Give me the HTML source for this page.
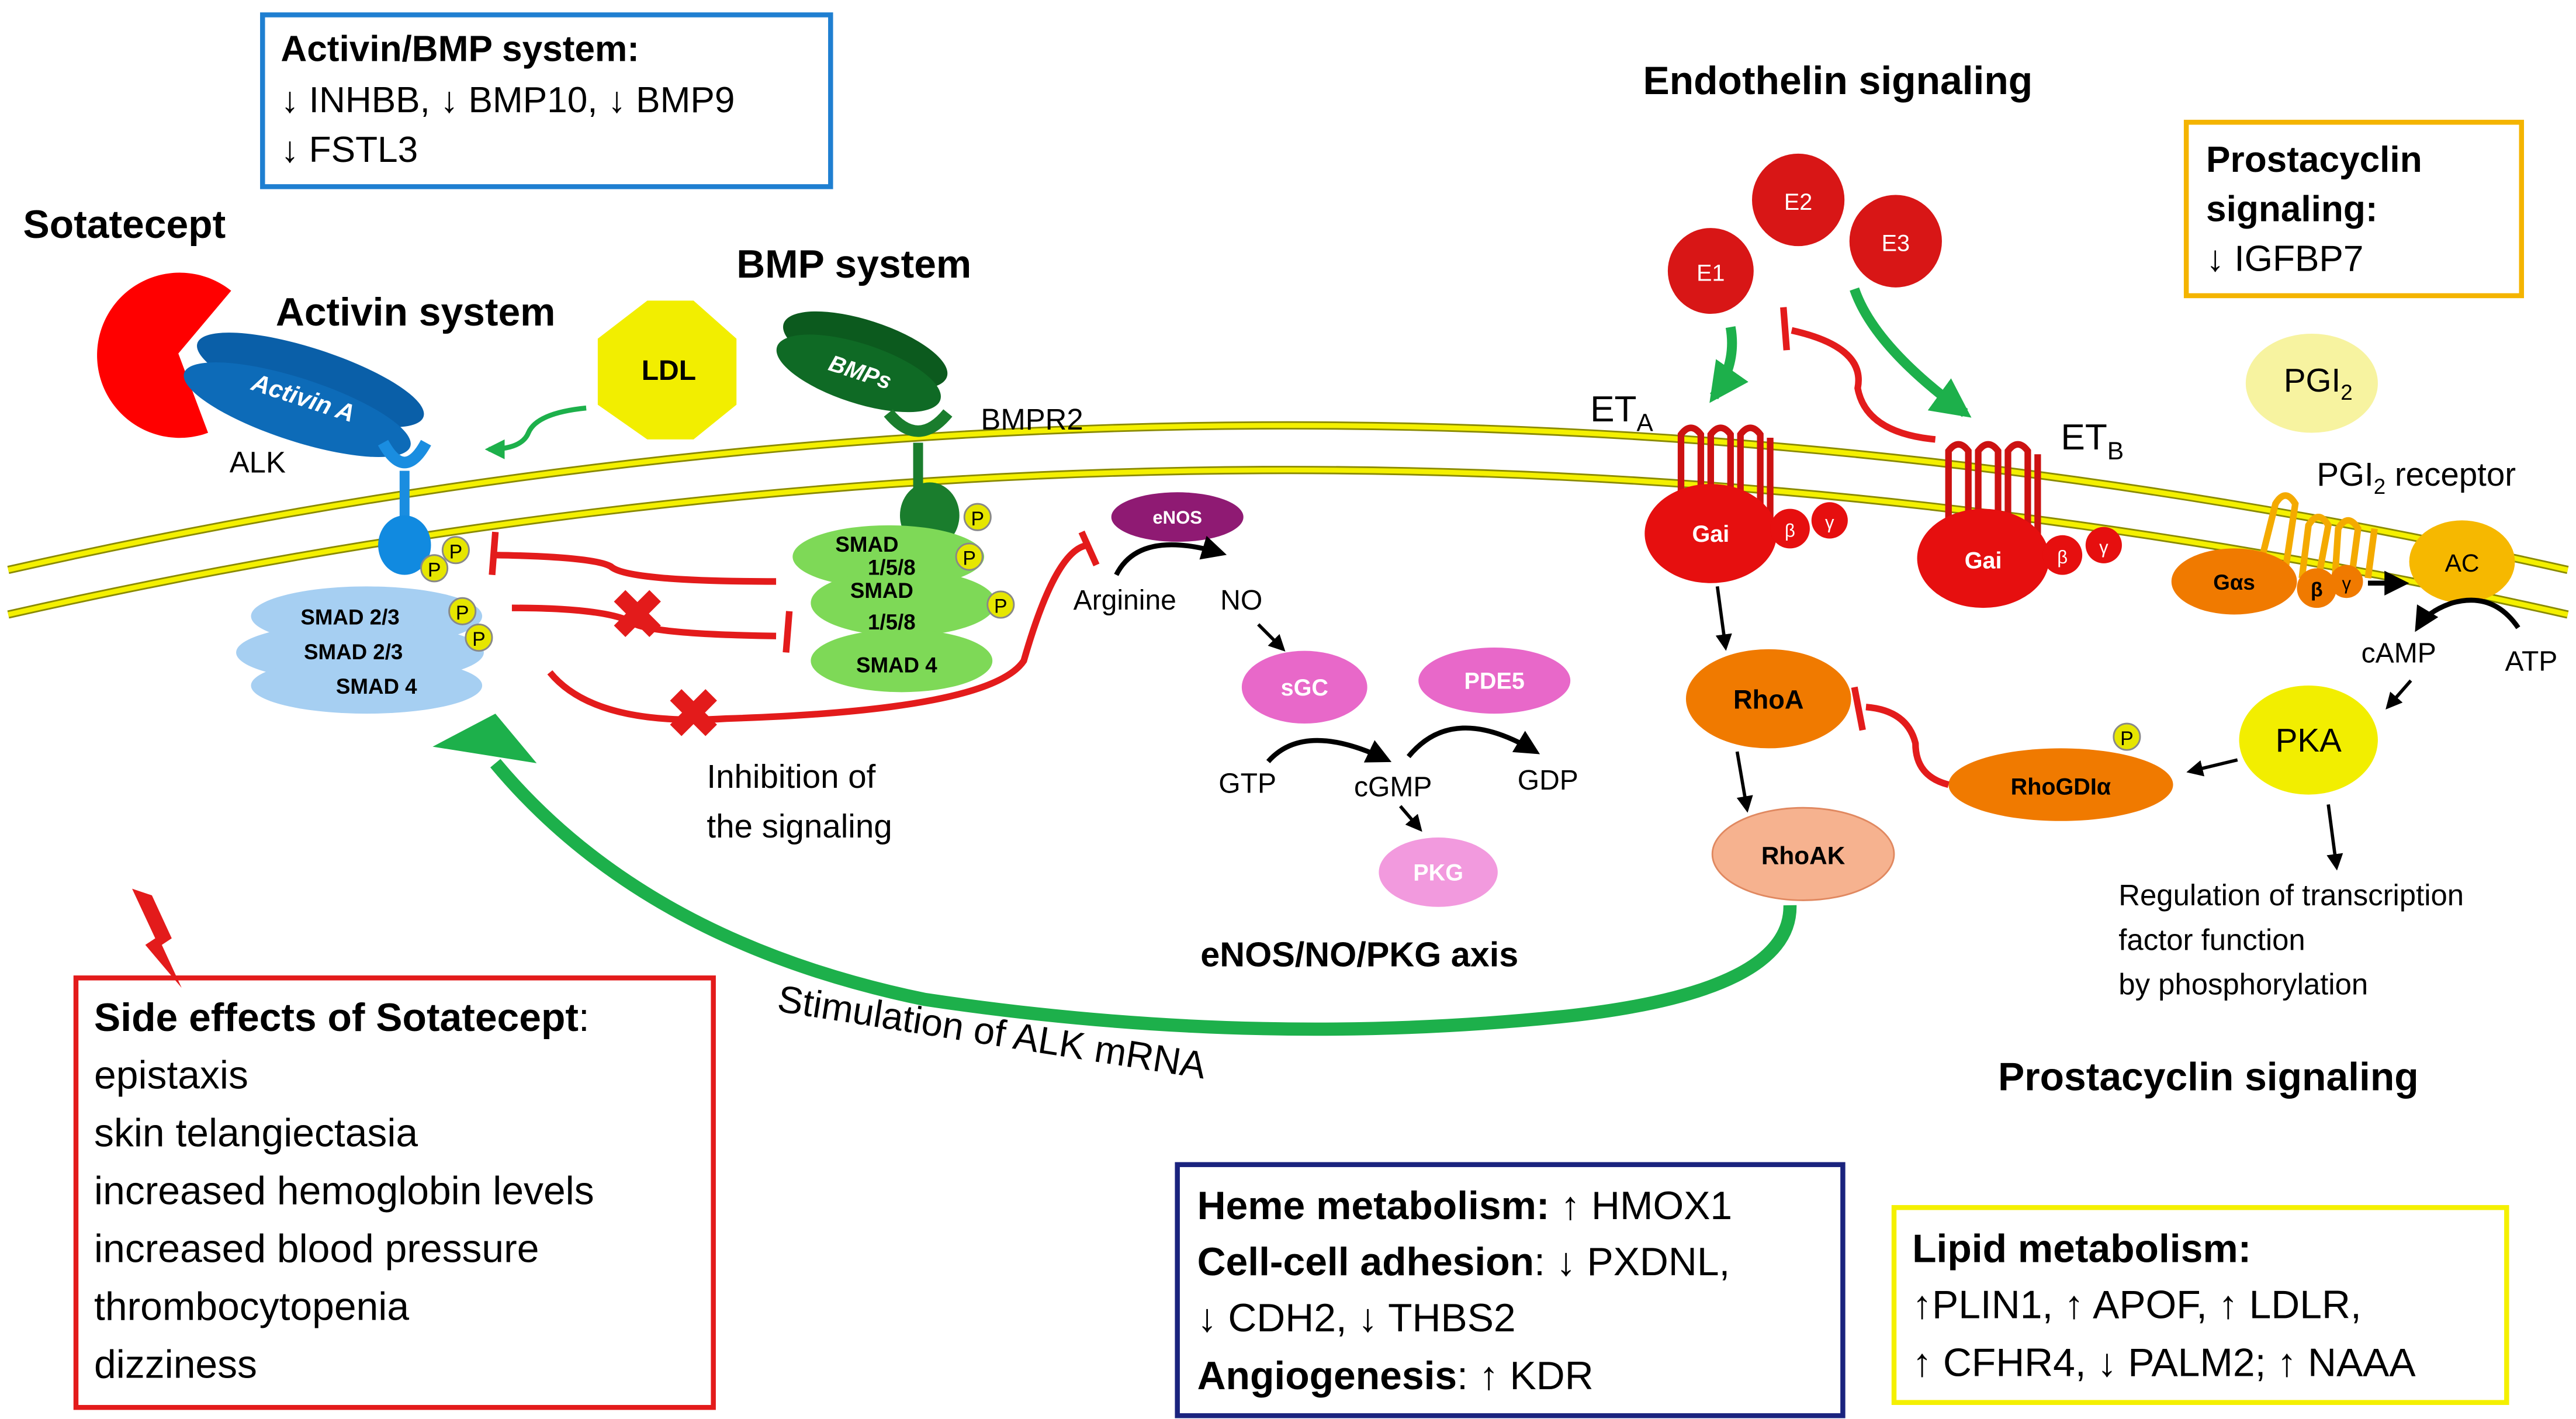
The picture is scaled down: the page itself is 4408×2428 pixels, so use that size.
<!DOCTYPE html>
<html><head><meta charset="utf-8"><style>
html,body{margin:0;padding:0;background:#fff}
svg{display:block}
text{font-family:"Liberation Sans",sans-serif}
</style></head><body>
<svg width="4408" height="2428" viewBox="0 0 1560 859" preserveAspectRatio="none" xmlns="http://www.w3.org/2000/svg">
<defs>
<marker id="ab" viewBox="0 0 10 10" refX="8" refY="5" markerWidth="5" markerHeight="5" orient="auto"><path d="M0,0L10,5L0,10z" fill="#000"/></marker>
<marker id="ag" viewBox="0 0 10 10" refX="8" refY="5" markerWidth="4" markerHeight="4" orient="auto"><path d="M0,0L10,5L0,10z" fill="#1db04b"/></marker>
</defs>
<rect width="1560" height="859" fill="#fff"/>
<!-- membrane -->
<path d="M5,345 Q780,170 1555,345" fill="none" stroke="#8a8a00" stroke-width="5"/>
<path d="M5,345 Q780,170 1555,345" fill="none" stroke="#f4f000" stroke-width="3"/>
<path d="M5,372 Q780,197 1555,372" fill="none" stroke="#8a8a00" stroke-width="5"/>
<path d="M5,372 Q780,197 1555,372" fill="none" stroke="#f4f000" stroke-width="3"/>

<!-- boxes -->
<rect x="159" y="9" width="344" height="104" fill="#fff" stroke="#1f7fd1" stroke-width="3"/>
<text x="170" y="37" font-size="22" font-weight="bold">Activin/BMP system:</text>
<text x="170" y="68" font-size="22">↓ INHBB, ↓ BMP10, ↓ BMP9</text>
<text x="170" y="98" font-size="22">↓ FSTL3</text>

<rect x="1324" y="74" width="203" height="105" fill="#fff" stroke="#f4b400" stroke-width="3"/>
<text x="1336" y="104" font-size="22" font-weight="bold">Prostacyclin</text>
<text x="1336" y="134" font-size="22" font-weight="bold">signaling:</text>
<text x="1336" y="164" font-size="22">↓ IGFBP7</text>

<rect x="46" y="592" width="386" height="260" fill="#fff" stroke="#e31b1b" stroke-width="3"/>
<text x="57" y="624" font-size="24"><tspan font-weight="bold">Side effects of Sotatecept</tspan>:</text>
<text x="57" y="659" font-size="24">epistaxis</text>
<text x="57" y="694" font-size="24">skin telangiectasia</text>
<text x="57" y="729" font-size="24">increased hemoglobin levels</text>
<text x="57" y="764" font-size="24">increased blood pressure</text>
<text x="57" y="799" font-size="24">thrombocytopenia</text>
<text x="57" y="834" font-size="24">dizziness</text>
<path d="M80,538 L94,568 L88,572 L110,598 L98,572 L104,568 L92,542z" fill="#e31b1b"/>

<rect x="713" y="705" width="403" height="152" fill="#fff" stroke="#1a237e" stroke-width="3"/>
<text x="725" y="738" font-size="24"><tspan font-weight="bold">Heme metabolism:</tspan> ↑ HMOX1</text>
<text x="725" y="772" font-size="24"><tspan font-weight="bold">Cell-cell adhesion</tspan>: ↓ PXDNL,</text>
<text x="725" y="806" font-size="24">↓ CDH2, ↓ THBS2</text>
<text x="725" y="841" font-size="24"><tspan font-weight="bold">Angiogenesis</tspan>: ↑ KDR</text>

<rect x="1147" y="731" width="371" height="118" fill="#fff" stroke="#f4f000" stroke-width="3"/>
<text x="1158" y="764" font-size="24" font-weight="bold">Lipid metabolism:</text>
<text x="1158" y="798" font-size="24">↑PLIN1, ↑ APOF, ↑ LDLR,</text>
<text x="1158" y="833" font-size="24">↑ CFHR4, ↓ PALM2; ↑ NAAA</text>

<!-- titles -->
<text x="14" y="144" font-size="24" font-weight="bold">Sotatecept</text>
<text x="167" y="197" font-size="24" font-weight="bold">Activin system</text>
<text x="446" y="168" font-size="24" font-weight="bold">BMP system</text>
<text x="995" y="57" font-size="24" font-weight="bold">Endothelin signaling</text>
<text x="1210" y="660" font-size="24" font-weight="bold">Prostacyclin signaling</text>
<text x="727" y="585" font-size="21" font-weight="bold">eNOS/NO/PKG axis</text>

<!-- sotatecept pacman -->
<path d="M108,214 L140,176 A50,50 0 1 0 126,262 z" fill="#f00"/>
<!-- Activin A -->
<ellipse cx="188" cy="230" rx="72" ry="19" transform="rotate(18 188 230)" fill="#0a5fa8"/>
<ellipse cx="180" cy="248" rx="72" ry="19" transform="rotate(18 180 248)" fill="#0d6bb8"/>
<text x="150" y="245" font-size="15" font-weight="bold" font-style="italic" fill="#fff" transform="rotate(18 180 245)">Activin A</text>
<text x="139" y="286" font-size="18">ALK</text>
<!-- ALK receptor -->
<path d="M232,268 Q245,292 258,268" fill="none" stroke="#1a8de0" stroke-width="7"/>
<rect x="242" y="285" width="6" height="40" fill="#1a8de0"/>
<ellipse cx="245" cy="330" rx="16" ry="18" fill="#118ae0"/>
<g font-size="12" text-anchor="middle">
<circle cx="276" cy="333" r="8" fill="#e6e600" stroke="#888"/><text x="276" y="338">P</text>
<circle cx="263" cy="344" r="8" fill="#e6e600" stroke="#888"/><text x="263" y="349">P</text>
</g>
<!-- SMAD 2/3 -->
<ellipse cx="222" cy="373" rx="70" ry="18" fill="#a6cff2"/>
<ellipse cx="218" cy="395" rx="75" ry="18" fill="#a6cff2"/>
<ellipse cx="222" cy="415" rx="70" ry="17" fill="#a6cff2"/>
<g font-size="13" font-weight="bold" text-anchor="middle"><text x="212" y="378">SMAD 2/3</text><text x="214" y="399">SMAD 2/3</text><text x="228" y="420">SMAD 4</text></g>
<g font-size="12" text-anchor="middle">
<circle cx="280" cy="370" r="8" fill="#e6e600" stroke="#888"/><text x="280" y="375">P</text>
<circle cx="290" cy="386" r="8" fill="#e6e600" stroke="#888"/><text x="290" y="391">P</text>
</g>

<!-- LDL -->
<polygon points="392,182 420,182 446,205 446,245 420,266 392,266 362,245 362,205" fill="#f2ee00"/>
<text x="405" y="230" font-size="17" font-weight="bold" text-anchor="middle">LDL</text>
<path d="M355,247 Q325,250 320,262 Q316,272 296,272" fill="none" stroke="#1db04b" stroke-width="3" marker-end="url(#ag)"/>

<!-- BMPs -->
<ellipse cx="524" cy="212" rx="52" ry="18" transform="rotate(18 524 212)" fill="#0c5a1e"/>
<ellipse cx="520" cy="226" rx="52" ry="18" transform="rotate(18 520 226)" fill="#0f6a25"/>
<text x="500" y="230" font-size="14" font-weight="bold" font-style="italic" fill="#fff" transform="rotate(18 520 230)">BMPs</text>
<text x="594" y="260" font-size="18">BMPR2</text>
<path d="M538,250 Q556,272 574,250" fill="none" stroke="#1a7d2d" stroke-width="7"/>
<rect x="553" y="268" width="6" height="40" fill="#1a7d2d"/>
<ellipse cx="563" cy="312" rx="18" ry="20" fill="#1a7d2d"/>
<ellipse cx="538" cy="337" rx="58" ry="19" fill="#7ed957"/>
<ellipse cx="547" cy="365" rx="56" ry="20" fill="#7ed957"/>
<ellipse cx="546" cy="400" rx="55" ry="19" fill="#7ed957"/>
<g font-size="13" font-weight="bold" text-anchor="middle"><text x="525" y="334">SMAD</text><text x="540" y="348">1/5/8</text><text x="534" y="362">SMAD</text><text x="540" y="381">1/5/8</text><text x="543" y="407">SMAD 4</text></g>
<g font-size="12" text-anchor="middle">
<circle cx="592" cy="313" r="8" fill="#e6e600" stroke="#888"/><text x="592" y="318">P</text>
<circle cx="587" cy="337" r="8" fill="#e6e600" stroke="#888"/><text x="587" y="342">P</text>
<circle cx="606" cy="366" r="8" fill="#e6e600" stroke="#888"/><text x="606" y="371">P</text>
</g>

<!-- red inhibition lines -->
<g fill="none" stroke="#e31b1b" stroke-width="4">
<path d="M300,336 Q360,337 370,343 Q380,352 470,352"/>
<path d="M300,322 L298,348"/>
<path d="M310,368 Q370,368 385,378 Q400,384 470,385"/>
<path d="M478,370 L476,395"/>
<path d="M333,407 Q360,440 440,435 Q600,430 620,400 Q640,330 660,330"/>
<path d="M655,322 L664,342"/>
</g>
<text x="386" y="386" font-size="40" font-weight="bold" fill="#e31b1b" text-anchor="middle">✖</text>
<text x="420" y="446" font-size="40" font-weight="bold" fill="#e31b1b" text-anchor="middle">✖</text>
<text x="428" y="477" font-size="20">Inhibition of</text>
<text x="428" y="507" font-size="20">the signaling</text>

<!-- eNOS axis -->
<ellipse cx="713" cy="313" rx="40" ry="15" fill="#8f1a73"/>
<text x="713" y="317" font-size="11" font-weight="bold" fill="#fff" text-anchor="middle">eNOS</text>
<path d="M676,348 Q690,320 740,335" fill="none" stroke="#000" stroke-width="3" marker-end="url(#ab)"/>
<text x="650" y="369" font-size="17">Arginine</text>
<text x="739" y="369" font-size="17">NO</text>
<path d="M762,378 L777,393" stroke="#000" stroke-width="2" marker-end="url(#ab)"/>
<ellipse cx="790" cy="416" rx="38" ry="22" fill="#e868c9"/>
<text x="790" y="421" font-size="14" font-weight="bold" fill="#fff" text-anchor="middle">sGC</text>
<ellipse cx="905" cy="412" rx="46" ry="20" fill="#e868c9"/>
<text x="905" y="417" font-size="14" font-weight="bold" fill="#fff" text-anchor="middle">PDE5</text>
<path d="M768,461 Q790,436 840,460" fill="none" stroke="#000" stroke-width="3" marker-end="url(#ab)"/>
<path d="M853,458 Q880,425 930,455" fill="none" stroke="#000" stroke-width="3" marker-end="url(#ab)"/>
<text x="738" y="480" font-size="17">GTP</text>
<text x="820" y="482" font-size="17">cGMP</text>
<text x="919" y="478" font-size="17">GDP</text>
<path d="M848,488 L860,502" stroke="#000" stroke-width="2" marker-end="url(#ab)"/>
<ellipse cx="871" cy="528" rx="36" ry="21" fill="#f29ade"/>
<text x="871" y="533" font-size="14" font-weight="bold" fill="#fff" text-anchor="middle">PKG</text>

<!-- Endothelins -->
<circle cx="1036" cy="164" r="26" fill="#d81616"/><text x="1036" y="170" font-size="14" fill="#fff" text-anchor="middle">E1</text>
<circle cx="1089" cy="121" r="28" fill="#d81616"/><text x="1089" y="127" font-size="14" fill="#fff" text-anchor="middle">E2</text>
<circle cx="1148" cy="146" r="28" fill="#d81616"/><text x="1148" y="152" font-size="14" fill="#fff" text-anchor="middle">E3</text>
<path d="M1048,198 Q1052,220 1038,240" fill="none" stroke="#1db04b" stroke-width="6" marker-end="url(#ag)"/>
<path d="M1123,175 Q1135,210 1190,250" fill="none" stroke="#1db04b" stroke-width="6" marker-end="url(#ag)"/>
<path d="M1085,200 Q1130,210 1125,235 Q1130,262 1172,266" fill="none" stroke="#e31b1b" stroke-width="4"/>
<path d="M1080,186 L1082,212" stroke="#e31b1b" stroke-width="4"/>
<text x="963" y="255" font-size="22">ET<tspan font-size="15" dy="6">A</tspan></text>
<text x="1248" y="272" font-size="22">ET<tspan font-size="15" dy="6">B</tspan></text>
<g fill="none" stroke="#cc1111" stroke-width="4">
<path d="M1018,315 L1018,263 Q1024,255 1030,263 L1030,315 M1036,315 L1036,263 Q1042,255 1048,263 L1048,315 M1054,315 L1054,263 Q1060,255 1066,263 L1066,315 M1072,315 L1072,265"/>
<path d="M1180,330 L1180,273 Q1186,265 1192,273 L1192,330 M1198,330 L1198,273 Q1204,265 1210,273 L1210,330 M1216,330 L1216,273 Q1222,265 1228,273 L1228,330 M1234,330 L1234,275"/>
</g>
<ellipse cx="1036" cy="323" rx="40" ry="30" fill="#e60f0f"/><text x="1036" y="328" font-size="14" font-weight="bold" fill="#fff" text-anchor="middle">Gai</text>
<circle cx="1084" cy="320" r="12" fill="#e60f0f"/><text x="1084" y="325" font-size="11" fill="#fff" text-anchor="middle">β</text>
<circle cx="1108" cy="315" r="11" fill="#e60f0f"/><text x="1108" y="320" font-size="11" fill="#fff" text-anchor="middle">γ</text>
<ellipse cx="1201" cy="338" rx="40" ry="30" fill="#e60f0f"/><text x="1201" y="344" font-size="14" font-weight="bold" fill="#fff" text-anchor="middle">Gai</text>
<circle cx="1249" cy="336" r="12" fill="#e60f0f"/><text x="1249" y="341" font-size="11" fill="#fff" text-anchor="middle">β</text>
<circle cx="1274" cy="330" r="11" fill="#e60f0f"/><text x="1274" y="335" font-size="11" fill="#fff" text-anchor="middle">γ</text>

<!-- PGI2 -->
<ellipse cx="1400" cy="232" rx="40" ry="30" fill="#f7f3a0"/>
<text x="1383" y="237" font-size="20">PGI<tspan font-size="13" dy="5">2</tspan></text>
<text x="1403" y="294" font-size="20">PGI<tspan font-size="13" dy="5">2</tspan><tspan dy="-5"> receptor</tspan></text>
<g fill="none" stroke="#f4aa00" stroke-width="4">
<path d="M1368,345 L1378,305 Q1384,295 1390,305 L1384,345 M1394,350 L1398,318 Q1404,308 1410,318 L1404,350 M1414,350 L1416,320 Q1422,310 1428,320 L1424,350 M1434,350 L1438,320"/>
</g>
<ellipse cx="1353" cy="352" rx="38" ry="20" fill="#f07a00"/><text x="1353" y="357" font-size="13" font-weight="bold" text-anchor="middle">Gαs</text>
<circle cx="1403" cy="356" r="12" fill="#f07a00"/><text x="1403" y="361" font-size="12" font-weight="bold" text-anchor="middle">β</text>
<circle cx="1421" cy="352" r="10" fill="#f07a00"/><text x="1421" y="357" font-size="11" text-anchor="middle">γ</text>
<path d="M1434,353 L1456,353" stroke="#000" stroke-width="3" marker-end="url(#ab)"/>
<ellipse cx="1491" cy="340" rx="32" ry="25" fill="#f6b800"/><text x="1491" y="346" font-size="15" text-anchor="middle">AC</text>
<path d="M1525,380 Q1510,358 1485,365 Q1470,370 1464,380" fill="none" stroke="#000" stroke-width="3" marker-end="url(#ab)"/>
<text x="1430" y="401" font-size="17">cAMP</text>
<text x="1517" y="406" font-size="17">ATP</text>
<path d="M1460,412 L1446,428" stroke="#000" stroke-width="2" marker-end="url(#ab)"/>
<ellipse cx="1398" cy="448" rx="42" ry="33" fill="#f2ee00"/><text x="1398" y="455" font-size="20" text-anchor="middle">PKA</text>
<path d="M1355,460 L1326,467" stroke="#000" stroke-width="2" marker-end="url(#ab)"/>
<path d="M1410,487 L1415,525" stroke="#000" stroke-width="2" marker-end="url(#ab)"/>
<text x="1283" y="548" font-size="18">Regulation of transcription</text>
<text x="1283" y="575" font-size="18">factor function</text>
<text x="1283" y="602" font-size="18">by phosphorylation</text>

<ellipse cx="1248" cy="475" rx="68" ry="22" fill="#f07a00"/><text x="1248" y="481" font-size="14" font-weight="bold" text-anchor="middle">RhoGDIα</text>
<circle cx="1288" cy="446" r="8" fill="#e6e600" stroke="#888"/><text x="1288" y="451" font-size="12" text-anchor="middle">P</text>
<path d="M1180,475 Q1160,470 1160,450 Q1155,430 1130,428" fill="none" stroke="#e31b1b" stroke-width="4"/>
<path d="M1123,416 L1128,442" stroke="#e31b1b" stroke-width="4"/>
<ellipse cx="1071" cy="423" rx="50" ry="30" fill="#f07a00"/><text x="1071" y="429" font-size="16" font-weight="bold" text-anchor="middle">RhoA</text>
<path d="M1040,355 L1045,392" stroke="#000" stroke-width="2" marker-end="url(#ab)"/>
<path d="M1052,455 L1058,490" stroke="#000" stroke-width="2" marker-end="url(#ab)"/>
<ellipse cx="1092" cy="517" rx="55" ry="28" fill="#f6b28f" stroke="#e08860"/><text x="1092" y="523" font-size="15" font-weight="bold" text-anchor="middle">RhoAK</text>

<!-- big green stimulation arrow -->
<path d="M1084,548 Q1085,600 950,615 Q760,635 560,605 Q390,570 300,462" fill="none" stroke="#1db04b" stroke-width="8"/>
<polygon points="262,452 325,462 300,432" fill="#1db04b"/>
<text x="470" y="612" font-size="23" transform="rotate(9 470 612)">Stimulation of ALK mRNA</text>
</svg>
</body></html>
